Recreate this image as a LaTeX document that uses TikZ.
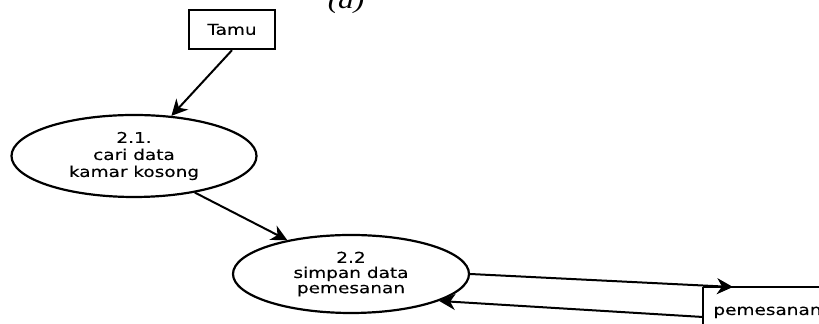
\documentclass[tikz,border=0pt]{standalone}
\usepackage{fontspec}
\newfontfamily\dfdfont[FakeStretch=1.24,FakeBold=0.15]{DejaVu Sans}
\newfontfamily\capfont[FakeStretch=1.3]{Liberation Serif}
\usetikzlibrary{shapes,arrows.meta}
\tikzset{
  process/.style={draw, ellipse, line width=1.1pt, inner sep=0pt, align=center},
  entity/.style={draw, rectangle, line width=1.2pt, inner sep=0pt},
  flow/.style={-{Stealth[length=8pt,width=8pt,inset=2.5pt]}, line width=1pt},
  dfdtext/.style={font=\dfdfont\fontsize{7.45}{#1}\selectfont},
}

\begin{document}
\begin{tikzpicture}[x=0.5pt, y=-0.5pt]
\clip (0,0) rectangle (819,324);
\node[font=\capfont\itshape\fontsize{12}{12}\selectfont, anchor=base] (label) at (346,9) {(a)};
\node[entity, dfdtext=8, minimum width=43pt, minimum height=19.5pt] (tamu) at (232,29.5) {Tamu};
\node[process, dfdtext=8.5, minimum width=122.5pt, minimum height=41pt] (p21) at (134,156) {2.1.\\cari data\\kamar kosong};
\node[process, dfdtext=7.6, minimum width=118pt, minimum height=39pt] (p22) at (351,274) {2.2\\simpan data\\pemesanan};
% data store, open on the right
\coordinate (ds) at (703,287);
\draw[line width=1.1pt] (ds) -- ++(130,0) (ds) -- ++(0,45);
\node[dfdtext=8, anchor=base west, inner sep=0pt] (dslabel) at (713,315) {pemesanan};
\coordinate (dsin) at (733,287);
\coordinate (dsout) at (703,317);
\draw[flow] (tamu.south) -- (p21.47);
\draw[flow] (p21.-31) -- (p22.152);
\draw[flow] (p22.east) -- (dsin);
\draw[flow] (dsout) -- (p22.-17);
\end{tikzpicture}
\end{document}
